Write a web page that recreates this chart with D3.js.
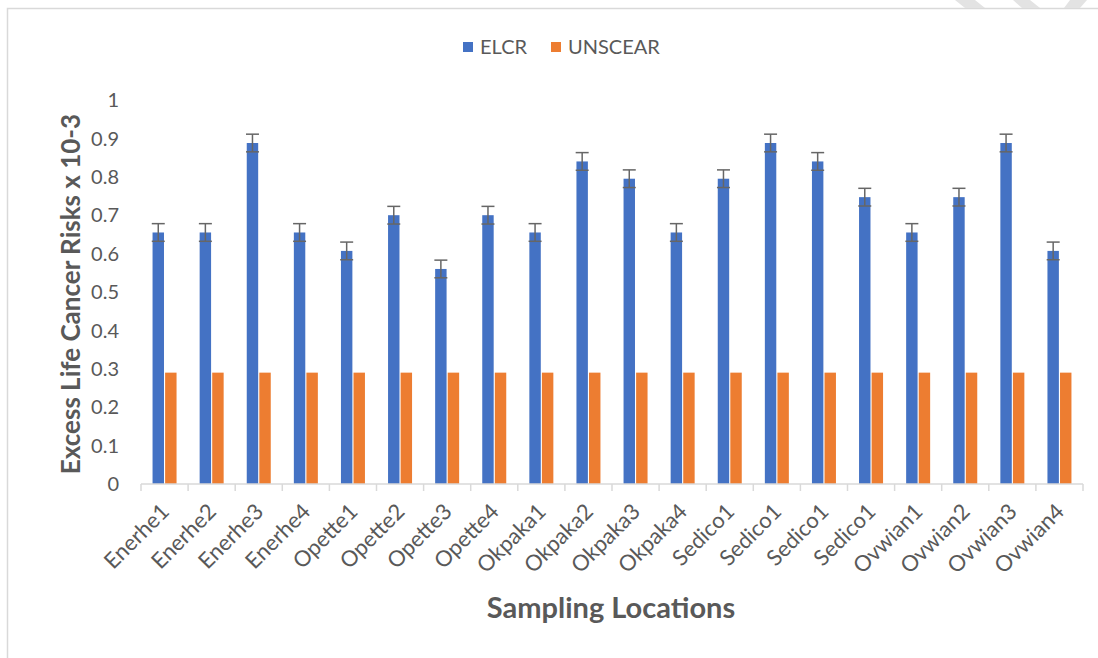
<!DOCTYPE html>
<html>
<head>
<meta charset="utf-8">
<script src="https://cdn.jsdelivr.net/npm/d3@7"></script>
<style>
  body { margin: 0; background: #fff; }
  svg { display: block; font-family: Lato, "Open Sans", sans-serif; }
</style>
</head>
<body>
<div id="chart"></div>
<script>
var locations = ["Enerhe1", "Enerhe2", "Enerhe3", "Enerhe4", "Opette1", "Opette2", "Opette3", "Opette4",
    "Okpaka1", "Okpaka2", "Okpaka3", "Okpaka4", "Sedico1", "Sedico1", "Sedico1", "Sedico1",
    "Ovwian1", "Ovwian2", "Ovwian3", "Ovwian4"];
var elcr = [0.655, 0.655, 0.888, 0.655, 0.607, 0.70, 0.56, 0.70,
    0.655, 0.84, 0.795, 0.655, 0.795, 0.888, 0.84, 0.747,
    0.655, 0.747, 0.888, 0.607];
var elcrErr = 0.023;
var unscear = [0.29, 0.29, 0.29, 0.29, 0.29, 0.29, 0.29, 0.29, 0.29, 0.29,
    0.29, 0.29, 0.29, 0.29, 0.29, 0.29, 0.29, 0.29, 0.29, 0.29];
var yTicks = [0, 0.1, 0.2, 0.3, 0.4, 0.5, 0.6, 0.7, 0.8, 0.9, 1];
var series = ["ELCR", "UNSCEAR"];
var colors = {ELCR: "#4472c4", UNSCEAR: "#ed7d31"};

var width = 1098, height = 658;

var svg = d3.select("#chart").append("svg")
    .attr("width", width)
    .attr("height", height);

// chart frame
svg.append("rect")
    .attr("x", 7.5).attr("y", 8.5)
    .attr("width", 1200).attr("height", 700)
    .attr("fill", "none").attr("stroke", "#d9d9d9").attr("stroke-width", 1.5);

// faint watermark fragments above the frame
var marks = [[[955, 0], [975, 0], [985, 8], [965, 8]], [[1013, 0], [1030, 0], [1040, 8], [1022, 8]],
    [[1070, 0], [1087, 0], [1080, 8], [1064, 8]]];
svg.selectAll(".wm").data(marks).enter().append("polygon")
    .attr("points", function (d) { return d.join(" "); })
    .attr("fill", "#e3e3e3");

var x = d3.scaleBand()
    .domain(d3.range(locations.length))
    .range([141, 1083])
    .padding(0);

var xInner = d3.scaleBand()
    .domain(series)
    .range([x.bandwidth() / 2 - 12, x.bandwidth() / 2 + 12])
    .paddingInner(0.09);

var y = d3.scaleLinear()
    .domain([0, 1])
    .range([484, 100]);

var g = svg.append("g");

// y tick labels
g.selectAll(".ytick").data(yTicks).enter().append("text")
    .attr("x", 119)
    .attr("y", function (d) { return y(d); })
    .attr("dy", "0.36em")
    .attr("text-anchor", "end")
    .attr("fill", "#595959")
    .attr("font-size", 20)
    .text(function (d) { return d3.format("")(d); });

// bars
var groups = g.selectAll(".grp").data(locations).enter().append("g")
    .attr("transform", function (d, i) { return "translate(" + x(i) + ",0)"; });

groups.append("rect")
    .attr("x", xInner("ELCR"))
    .attr("width", xInner.bandwidth())
    .attr("y", function (d, i) { return y(elcr[i]); })
    .attr("height", function (d, i) { return y(0) - y(elcr[i]); })
    .attr("fill", colors.ELCR);

groups.append("rect")
    .attr("x", xInner("UNSCEAR"))
    .attr("width", xInner.bandwidth())
    .attr("y", function (d, i) { return y(unscear[i]); })
    .attr("height", function (d, i) { return y(0) - y(unscear[i]); })
    .attr("fill", colors.UNSCEAR);

// error bars on ELCR
var ex = xInner("ELCR") + xInner.bandwidth() / 2;
groups.append("line")
    .attr("x1", ex).attr("x2", ex)
    .attr("y1", function (d, i) { return y(elcr[i] + elcrErr); })
    .attr("y2", function (d, i) { return y(elcr[i] - elcrErr); })
    .attr("stroke", "#666").attr("stroke-width", 1.5);
[1, -1].forEach(function (s) {
    groups.append("line")
        .attr("x1", ex - 6.5).attr("x2", ex + 6.5)
        .attr("y1", function (d, i) { return y(elcr[i] + s * elcrErr); })
        .attr("y2", function (d, i) { return y(elcr[i] + s * elcrErr); })
        .attr("stroke", "#666").attr("stroke-width", 1.5);
});

// x axis line and ticks
g.append("line")
    .attr("x1", 141).attr("x2", 1083)
    .attr("y1", y(0)).attr("y2", y(0))
    .attr("stroke", "#d9d9d9").attr("stroke-width", 1.5);
g.selectAll(".xt").data(d3.range(locations.length + 1)).enter().append("line")
    .attr("x1", function (i) { return 141 + i * x.step(); })
    .attr("x2", function (i) { return 141 + i * x.step(); })
    .attr("y1", y(0)).attr("y2", y(0) + 7)
    .attr("stroke", "#d9d9d9").attr("stroke-width", 1.5);

// x labels
g.selectAll(".xl").data(locations).enter().append("text")
    .attr("transform", function (d, i) {
        return "translate(" + (x(i) + x.bandwidth() / 2 + 6) + "," + 513 + ") rotate(-45)";
    })
    .attr("text-anchor", "end")
    .attr("fill", "#595959")
    .attr("font-size", 22)
    .text(function (d) { return d; });

// axis titles
svg.append("text")
    .attr("transform", "translate(80,294) rotate(-90)")
    .attr("text-anchor", "middle")
    .attr("fill", "#595959")
    .attr("font-size", 26)
    .attr("font-weight", "bold")
    .text("Excess Life Cancer Risks x 10-3");

svg.append("text")
    .attr("x", 611).attr("y", 618)
    .attr("text-anchor", "middle")
    .attr("fill", "#595959")
    .attr("font-size", 29)
    .attr("font-weight", "bold")
    .text("Sampling Locations");

// legend
var legendPos = [463, 551];
var leg = svg.selectAll(".leg").data(series).enter().append("g")
    .attr("transform", function (d, i) { return "translate(" + legendPos[i] + ",47)"; });
leg.append("rect")
    .attr("x", 0).attr("y", -5)
    .attr("width", 10).attr("height", 10)
    .attr("fill", function (d) { return colors[d]; });
leg.append("text")
    .attr("x", 17).attr("dy", "0.36em")
    .attr("fill", "#595959")
    .attr("font-size", 20)
    .text(function (d) { return d; });
</script>
</body>
</html>
